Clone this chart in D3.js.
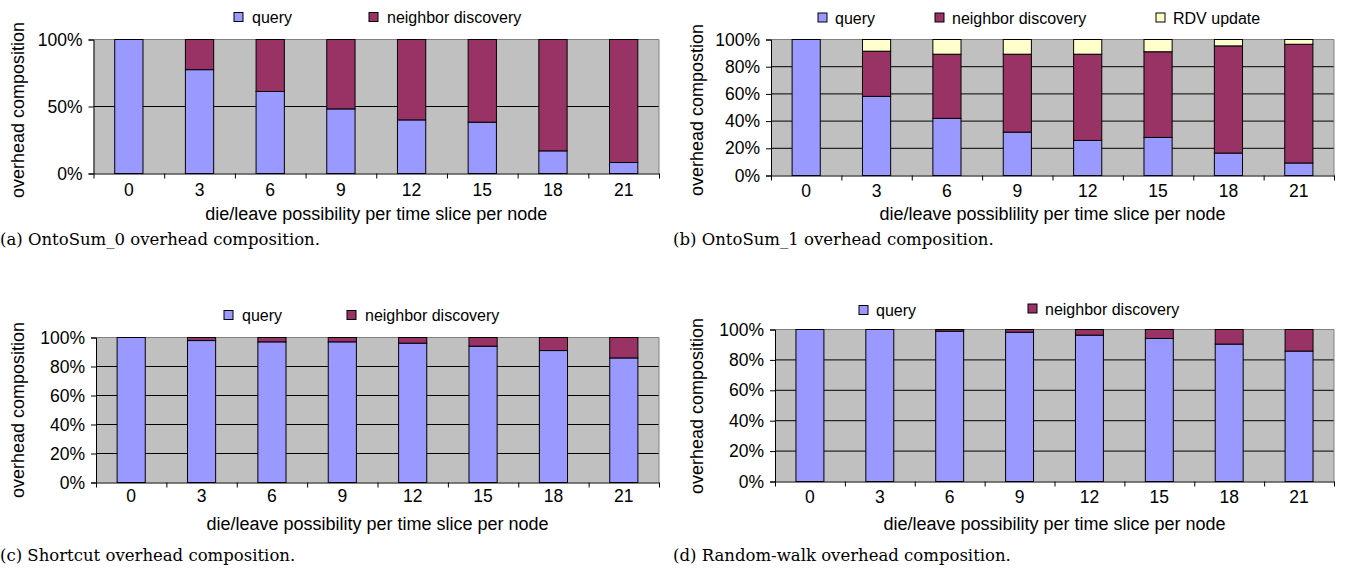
<!DOCTYPE html>
<html>
<head>
<meta charset="utf-8">
<script src="https://cdn.jsdelivr.net/npm/d3@7"></script>
<style>
  body { margin: 0; background: #fff; }
  svg text { font-family: "Liberation Sans", Arial, sans-serif; }
  .caption { font-family: "DejaVu Serif", serif; }
</style>
</head>
<body>
<script>
// die/leave possibility categories, shared by every panel
var categories = ["0", "3", "6", "9", "12", "15", "18", "21"];

// (a) OntoSum_0
var ontoSum0Query = [100, 77.5, 61.2, 48.2, 40.0, 38.3, 16.9, 8.2];
var ontoSum0Neighbor = [0, 22.5, 38.8, 51.8, 60.0, 61.7, 83.1, 91.8];

// (b) OntoSum_1
var ontoSum1Query = [100, 58.2, 42.0, 31.9, 25.8, 28.0, 16.5, 9.2];
var ontoSum1Neighbor = [0, 33.2, 47.2, 57.3, 63.4, 63.0, 78.8, 87.3];
var ontoSum1Rdv = [0, 8.6, 10.8, 10.8, 10.8, 9.0, 4.7, 3.5];

// (c) Shortcut
var shortcutQuery = [100, 97.9, 97.0, 97.0, 96.1, 94.0, 91.0, 85.9];
var shortcutNeighbor = [0, 2.1, 3.0, 3.0, 3.9, 6.0, 9.0, 14.1];

// (d) Random-walk
var randomQuery = [100, 100, 98.9, 98.2, 96.3, 94.1, 90.4, 85.8];
var randomNeighbor = [0, 0, 1.1, 1.8, 3.7, 5.9, 9.6, 14.2];

var ticksHalf = [0, 50, 100];
var ticksFifth = [0, 20, 40, 60, 80, 100];

var seriesNames = ["query", "neighbor discovery", "RDV update"];
var colors = { "query": "#9999ff", "neighbor discovery": "#993366", "RDV update": "#ffffcc" };

var svg = d3.select("body").append("svg")
  .attr("width", 1346)
  .attr("height", 570);

function drawPanel(p) {
  var g = svg.append("g");

  var y = d3.scaleLinear().domain([0, 100]).range([p.bottom, p.top]);
  var x = d3.scaleBand().domain(categories).range([p.left, p.right])
    .paddingInner(0.6).paddingOuter(0.3);
  var edges = d3.scaleLinear().domain([0, categories.length]).range([p.left, p.right]);

  // gray plot area
  g.append("rect")
    .attr("x", p.left).attr("y", p.top)
    .attr("width", p.right - p.left).attr("height", p.bottom - p.top)
    .style("fill", "#c0c0c0");

  // gridlines
  g.selectAll("line.grid")
    .data(p.ticks.filter(function (d) { return d > 0 && d < 100; }))
    .enter().append("line")
    .attr("x1", p.left).attr("x2", p.right)
    .attr("y1", function (d) { return y(d); })
    .attr("y2", function (d) { return y(d); })
    .style("stroke", "#000").style("stroke-width", 1);

  // border top + right (gray)
  g.append("path")
    .attr("d", "M" + p.left + "," + y(100) + "H" + p.right + "V" + p.bottom)
    .style("fill", "none").style("stroke", "#808080").style("stroke-width", 1);

  // stacked bars
  var stack = d3.stack().keys(p.keys)(categories.map(function (c, i) {
    var row = { cat: c };
    p.keys.forEach(function (k, j) { row[k] = p.values[j][i]; });
    return row;
  }));

  g.selectAll("g.layer")
    .data(stack)
    .enter().append("g")
    .style("fill", function (d) { return colors[d.key]; })
    .selectAll("rect")
    .data(function (d) { return d.filter(function (s) { return s[1] - s[0] > 0; }); })
    .enter().append("rect")
    .attr("x", function (d) { return x(d.data.cat); })
    .attr("width", x.bandwidth())
    .attr("y", function (d) { return y(d[1]); })
    .attr("height", function (d) { return y(d[0]) - y(d[1]); })
    .style("stroke", "#000").style("stroke-width", 1);

  // y axis
  var yAxis = g.append("g")
    .attr("transform", "translate(" + p.left + ",0)")
    .call(d3.axisLeft(y).tickValues(p.ticks)
      .tickFormat(function (d) { return d + "%"; })
      .tickSize(5).tickPadding(6));
  yAxis.selectAll("text").style("font-size", "17.5px").style("fill", "#000")
    .style("font-family", "Liberation Sans, Arial, sans-serif");
  yAxis.selectAll("line, path").style("stroke", "#000");

  // x axis: ticks at category boundaries
  var xEdges = g.append("g")
    .attr("transform", "translate(0," + p.bottom + ")")
    .call(d3.axisBottom(edges).tickValues(d3.range(categories.length + 1))
      .tickFormat("").tickSize(5).tickSizeOuter(0));
  xEdges.selectAll("line, path").style("stroke", "#000");

  var xLabels = g.append("g")
    .attr("transform", "translate(0," + p.bottom + ")")
    .call(d3.axisBottom(x).tickSize(0).tickPadding(p.tickPad));
  xLabels.select(".domain").remove();
  xLabels.selectAll("text").style("font-size", "17.5px").style("fill", "#000")
    .style("font-family", "Liberation Sans, Arial, sans-serif");

  // axis titles
  g.append("text")
    .attr("x", (p.left + p.right) / 2)
    .attr("y", p.titleY)
    .attr("text-anchor", "middle")
    .style("font-size", "18px")
    .text(p.xTitle);

  g.append("text")
    .attr("transform", "translate(" + p.yTitleX + "," + p.yTitleY + ") rotate(-90)")
    .attr("text-anchor", "middle")
    .attr("dominant-baseline", "central")
    .style("font-size", "18px")
    .text(p.yTitle);

  // legend
  var leg = g.selectAll("g.legend")
    .data(p.keys)
    .enter().append("g")
    .attr("transform", function (d, i) { return "translate(" + p.legendX[i] + "," + p.legendY[i] + ")"; });
  leg.append("rect")
    .attr("x", 0).attr("y", -5).attr("width", 9).attr("height", 9)
    .style("fill", function (d) { return colors[d]; })
    .style("stroke", "#000").style("stroke-width", 1);
  leg.append("text")
    .attr("x", p.legendGap[0])
    .attr("y", 0)
    .attr("dominant-baseline", "central")
    .style("font-size", "16px")
    .text(function (d) { return d; });

  // caption
  g.append("text")
    .attr("class", "caption")
    .attr("x", p.captionX)
    .attr("y", p.captionY)
    .style("font-size", "16.5px")
    .text(p.caption);
}

drawPanel({
  left: 93.5, right: 659, top: 39.5, bottom: 173.5,
  ticks: ticksHalf,
  keys: seriesNames.slice(0, 2), values: [ontoSum0Query, ontoSum0Neighbor],
  tickPad: 10, titleY: 220,
  xTitle: "die/leave possibility per time slice per node",
  yTitle: "overhead composition", yTitleX: 18, yTitleY: 110,
  legendX: [234, 369], legendY: [17.5, 17.5], legendGap: [18],
  caption: "(a) OntoSum_0 overhead composition.", captionX: 0, captionY: 245
});

drawPanel({
  left: 771, right: 1334, top: 39.5, bottom: 175.5,
  ticks: ticksFifth,
  keys: seriesNames, values: [ontoSum1Query, ontoSum1Neighbor, ontoSum1Rdv],
  tickPad: 9, titleY: 220,
  xTitle: "die/leave possiblility per time slice per node",
  yTitle: "overhead compostion", yTitleX: 697, yTitleY: 110,
  legendX: [818, 935, 1156], legendY: [18, 18, 18], legendGap: [17],
  caption: "(b) OntoSum_1 overhead composition.", captionX: 673, captionY: 245
});

drawPanel({
  left: 96, right: 659, top: 337.5, bottom: 482.5,
  ticks: ticksFifth,
  keys: seriesNames.slice(0, 2), values: [shortcutQuery, shortcutNeighbor],
  tickPad: 7, titleY: 530,
  xTitle: "die/leave possibility per time slice per node",
  yTitle: "overhead composition", yTitleX: 18, yTitleY: 410,
  legendX: [224, 347], legendY: [315.5, 315.5], legendGap: [18],
  caption: "(c) Shortcut overhead composition.", captionX: 0, captionY: 561
});

drawPanel({
  left: 775, right: 1334, top: 329.5, bottom: 481.5,
  ticks: ticksFifth,
  keys: seriesNames.slice(0, 2), values: [randomQuery, randomNeighbor],
  tickPad: 9, titleY: 530,
  xTitle: "die/leave possibility per time slice per node",
  yTitle: "overhead composition", yTitleX: 697, yTitleY: 406,
  legendX: [859, 1028], legendY: [310.5, 309], legendGap: [17],
  caption: "(d) Random-walk overhead composition.", captionX: 673, captionY: 561
});
</script>
</body>
</html>
